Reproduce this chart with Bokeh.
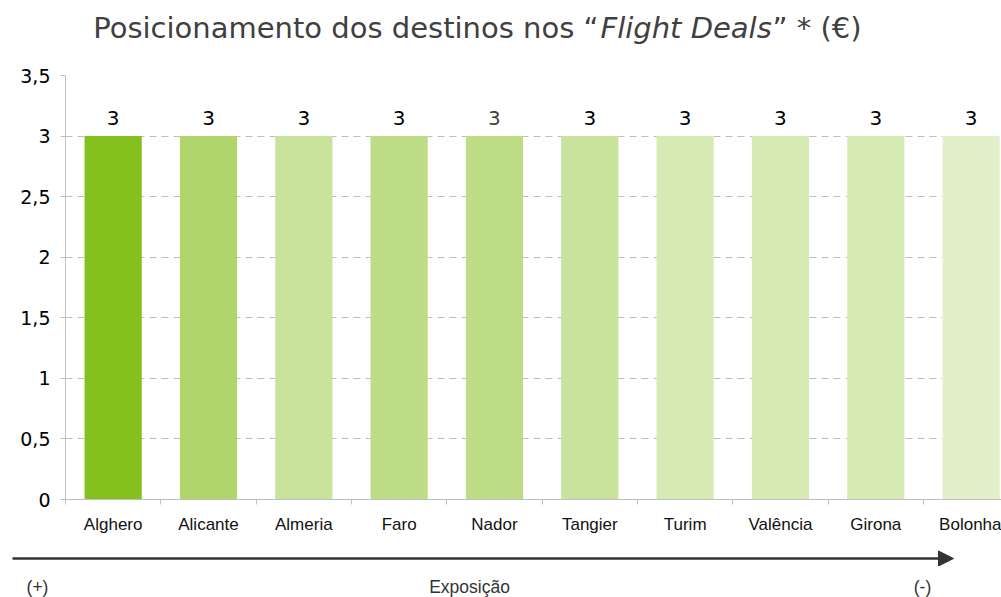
from bokeh.plotting import figure
from bokeh.models import (Range1d, FixedTicker, CustomJSTickFormatter, Label,
                          Arrow, NormalHead, ColumnDataSource)
from bokeh.layouts import column
from bokeh.core.properties import value
from bokeh.embed import file_html
from bokeh.resources import INLINE

# ---- data ----
categories = ["Alghero", "Alicante", "Almeria", "Faro", "Nador",
              "Tangier", "Turim", "Valência", "Girona", "Bolonha"]
values = [3, 3, 3, 3, 3, 3, 3, 3, 3, 3]
y_ticks = [0, 0.5, 1, 1.5, 2, 2.5, 3, 3.5]
title_parts = ["Posicionamento dos destinos nos \u201c", "Flight Deals", "\u201d * (\u20ac)"]
axis_caption = ["(+)", "Exposição", "(-)"]

# ---- styles ----
bar_colors = ["#85C11E", "#B0D56B", "#C9E39C", "#BDDC85", "#BDDC85",
              "#C9E39C", "#D6EBB4", "#D6EBB4", "#D6EBB4", "#E2F0CA"]
label_colors = ["#000000"] * 4 + ["#404040"] + ["#000000"] * 5

W = 1001


def blank(height):
    f = figure(width=W, height=height, output_backend="svg", toolbar_location=None,
               x_range=Range1d(0, W), y_range=Range1d(height, 0),
               x_axis_type=None, y_axis_type=None,
               min_border=0, min_border_left=0, min_border_right=0,
               min_border_top=0, min_border_bottom=0)
    f.outline_line_color = None
    f.background_fill_color = "white"
    try:
        f.frame_align = False
    except Exception:
        pass
    return f


# ---- title strip ----
top = blank(60)
tfs = "29px"
top.add_layout(Label(x=598, y=27, text=title_parts[0], text_align="right",
                     text_baseline="alphabetic", text_font="DejaVu Sans",
                     text_font_size=tfs, text_color="#404040"))
top.add_layout(Label(x=600, y=27, text=title_parts[1], text_align="left",
                     text_baseline="alphabetic", text_font="DejaVu Sans",
                     text_font_style="italic", text_font_size=tfs, text_color="#404040"))
top.add_layout(Label(x=772, y=27, text=title_parts[2], text_align="left",
                     text_baseline="alphabetic", text_font="DejaVu Sans",
                     text_font_size=tfs, text_color="#404040"))

# ---- main chart ----
xs = [i + 1 for i in range(len(categories))]
src = ColumnDataSource(dict(x=xs, top=values, color=bar_colors,
                            txt=[str(v) for v in values], tcolor=label_colors))

p = figure(width=W, height=485, output_backend="svg", toolbar_location=None,
           x_range=Range1d(0.5, 0.5 + 936 / 95.33), y_range=Range1d(0, 3.5),
           min_border_left=65, min_border_right=0, min_border_top=15,
           min_border_bottom=46)
p.outline_line_color = None
p.background_fill_color = "white"

p.vbar(x="x", top="top", width=0.6, fill_color="color", line_color=None, source=src)
p.text(x="x", y="top", text="txt", text_align="center", text_baseline="alphabetic",
       y_offset=-18, text_font=value("DejaVu Sans"), text_font_size="20px",
       text_color="tcolor", source=src)

xa = p.xaxis[0]
xa.ticker = FixedTicker(ticks=xs, minor_ticks=[i + 0.5 for i in range(len(categories) + 1)])
xa.formatter = CustomJSTickFormatter(args=dict(names=categories),
                                     code="return names[Math.round(tick) - 1] || '';")
xa.axis_line_color = "#BFBFBF"
xa.major_tick_out = 0
xa.major_tick_in = 0
xa.major_tick_line_color = None
xa.minor_tick_out = 5
xa.minor_tick_in = 0
xa.minor_tick_line_color = "#BFBFBF"
xa.major_label_standoff = 10
xa.major_label_text_font = "Liberation Sans"
xa.major_label_text_font_size = "17px"
xa.major_label_text_color = "#111111"

ya = p.yaxis[0]
ya.ticker = FixedTicker(ticks=y_ticks)
ya.formatter = CustomJSTickFormatter(code="return tick.toString().replace('.', ',');")
ya.axis_line_color = "#BFBFBF"
ya.major_tick_out = 5
ya.major_tick_in = 0
ya.major_tick_line_color = "#BFBFBF"
ya.minor_tick_line_color = None
ya.major_label_standoff = 10
ya.major_label_text_font = "DejaVu Sans"
ya.major_label_text_font_size = "19px"
ya.major_label_text_color = "#000000"

p.xgrid.visible = False
p.ygrid.ticker = FixedTicker(ticks=y_ticks)
p.ygrid.grid_line_color = "#BFBFBF"
p.ygrid.grid_line_dash = "7 5"

# ---- exposure arrow strip ----
bot = blank(52)
bot.add_layout(Arrow(x_start=12, y_start=13, x_end=953, y_end=13,
                     line_color="#333333", line_width=2.5,
                     end=NormalHead(size=15, fill_color="#333333", line_color="#333333")))
for txt, xpos in zip(axis_caption, [37, 469, 922]):
    bot.add_layout(Label(x=xpos, y=41, text=txt, text_align="center",
                         text_baseline="alphabetic", text_font="Liberation Sans",
                         text_font_size="17.5px", text_color="#333333"))

layout = column(top, p, bot, spacing=0)
open("out.html", "w").write(file_html(layout, INLINE))
